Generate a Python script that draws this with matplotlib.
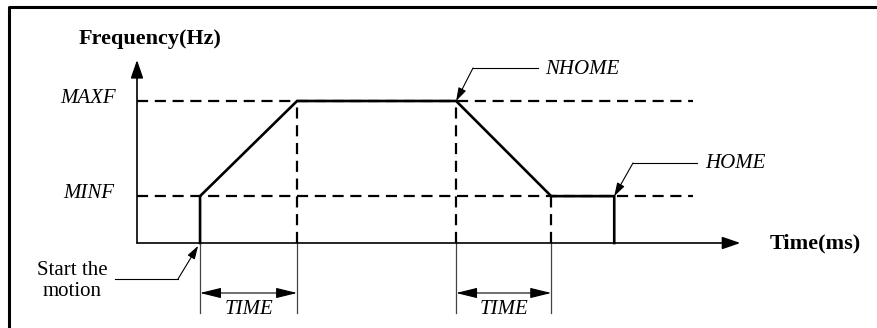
import matplotlib.pyplot as plt

# time points (one TIME unit = ramp duration)
t_start = 0.65
t_ramp_up = 1.65
t_nhome = 3.29
t_ramp_down = 4.27
t_home = 4.92
# frequency levels
MINF = 0.33
MAXF = 1.0

profile_t = [t_start, t_start, t_ramp_up, t_nhome, t_ramp_down, t_home, t_home]
profile_f = [0, MINF, MAXF, MAXF, MINF, MINF, 0]
level_names = ["MAXF", "MINF"]
levels = [MAXF, MINF]
dashed_end = 5.73

plt.rcParams['font.family'] = ['Liberation Serif', 'DejaVu Serif']

fig = plt.figure(figsize=(8.78, 3.28), dpi=100)
ax = fig.add_axes([0, 0, 1, 1])
ax.set_xlim(-137 / 97, (878 - 137) / 97)
ax.set_ylim(-85 / 142, (328 - 85) / 142)
ax.axis('off')

# outer frame (only top and left edges visible)
ax.plot([-128 / 97, -128 / 97, 9], [-1, 236 / 142, 236 / 142], color='black', lw=2.2, clip_on=False)

# axes arrows
ax.annotate('', xy=(0, 1.289), xytext=(0, 0),
            arrowprops=dict(arrowstyle='-|>,head_length=1.1,head_width=0.38', color='black', lw=1.2, shrinkA=0, shrinkB=0))
ax.annotate('', xy=(6.22, 0), xytext=(0, 0),
            arrowprops=dict(arrowstyle='-|>,head_length=1.1,head_width=0.38', color='black', lw=1.2, shrinkA=0, shrinkB=0))
ax.text(0.13, 1.44, 'Frequency(Hz)', fontsize=16, fontweight='bold', ha='center', va='center')
ax.text(6.99, 0, 'Time(ms)', fontsize=16, fontweight='bold', ha='center', va='center')

# dashed reference lines
for name, lv in zip(level_names, levels):
    ax.plot([0, dashed_end], [lv, lv], color='black', lw=1.6, ls=(0, (5, 3)))
    ax.text(-0.5, lv + 0.02, name, fontsize=15, style='italic', ha='center', va='center')
for t, lv in [(t_ramp_up, MAXF), (t_nhome, MAXF), (t_ramp_down, MINF)]:
    ax.plot([t, t], [0, lv], color='black', lw=1.6, ls=(0, (5, 3)))

# frequency profile
ax.plot(profile_t, profile_f, color='black', lw=1.9, solid_joinstyle='miter')

# thin extension lines and TIME dimensions
ext_bottom = -70 / 142
for t in [t_start, t_ramp_up, t_nhome, t_ramp_down]:
    ax.plot([t, t], [0, ext_bottom], color='#444444', lw=0.9)
arrow_y = -50 / 142
for a, b in [(t_start, t_ramp_up), (t_nhome, t_ramp_down)]:
    ax.annotate('', xy=(a, arrow_y), xytext=(b, arrow_y),
                arrowprops=dict(arrowstyle='<|-|>,head_length=1.3,head_width=0.32', color='black', lw=0.8, shrinkA=0, shrinkB=0))
    ax.text((a + b) / 2, -67 / 142, 'TIME', fontsize=15, style='italic', ha='center', va='center')

# callouts
def callout(x, y, knee, end, label, ha, tx, ty):
    ax.plot([end[0], knee[0]], [end[1], knee[1]], color='black', lw=0.8)
    ax.annotate('', xy=(x, y), xytext=knee,
                arrowprops=dict(arrowstyle='-|>,head_length=0.8,head_width=0.25', color='black', lw=0.8, shrinkA=0, shrinkB=0))
    ax.text(tx, ty, label, fontsize=15, style=('italic' if ha == 'left' else 'normal'), ha=ha, va='center',
            linespacing=1.2)

callout(t_start - 0.02, -0.02, (41 / 97, -36 / 142), (-22 / 97, -36 / 142),
        'Start the\nmotion', 'center', -0.67, -38 / 142)
callout(t_nhome, MAXF, (336 / 97, 175 / 142), (401 / 97, 175 / 142),
        'NHOME', 'left', 408 / 97, 173 / 142)
callout(t_home, MINF, (496 / 97, 80 / 142), (560 / 97, 80 / 142),
        'HOME', 'left', 568 / 97, 80 / 142)

fig.savefig('out.png', dpi=100)
